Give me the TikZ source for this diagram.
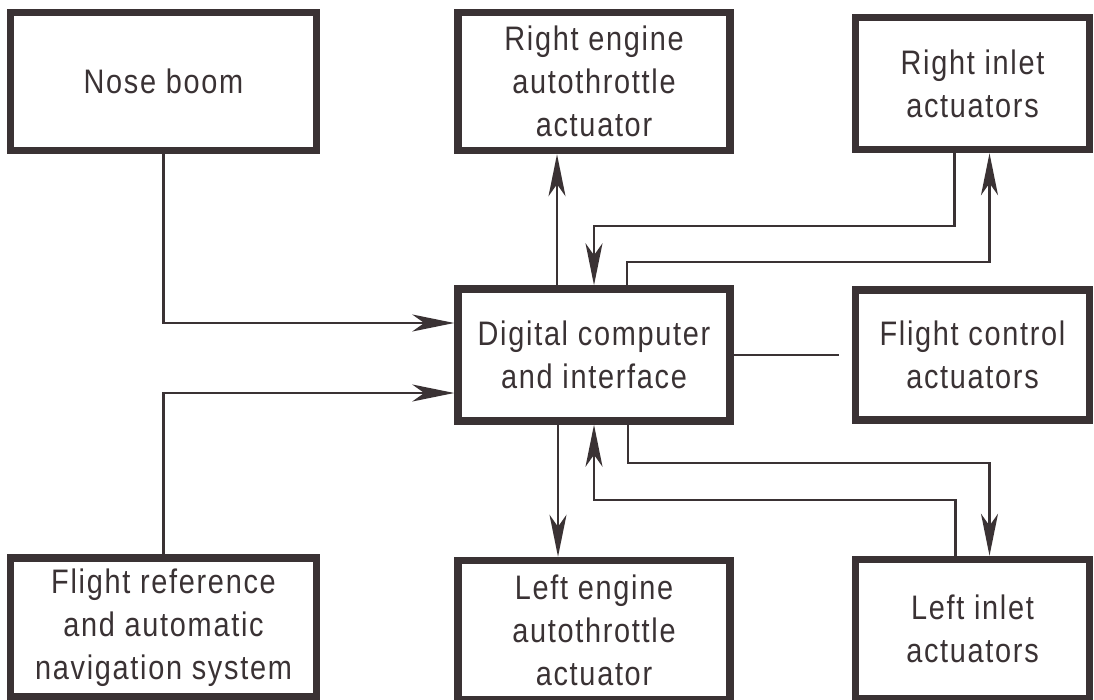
\documentclass[tikz,border=0pt]{standalone}
\usepackage{fontspec}
\setmainfont{Liberation Sans}[LetterSpace=5, FakeStretch=0.85]
\usepackage{xcolor}
\usetikzlibrary{positioning, arrows.meta}

\definecolor{ink}{RGB}{58,50,52}

\begin{document}
\begin{tikzpicture}[x=1pt, y=1pt, >={Stealth[length=42pt, width=17pt, inset=12pt]},
    box/.style={draw=ink, line width=7.5pt, align=center, inner sep=0pt,
        font=\fontsize{34}{43}\selectfont, text=ink},
    wideA/.style={minimum width=306pt},
    wideB/.style={minimum width=272pt},
    wideC/.style={minimum width=234pt},
    link/.style={draw=ink, line width=2.4pt}]
    \useasboundingbox (0,0) rectangle (1094,-700);

    % top row
    \node[box, wideA, minimum height=138pt] (nose) at (163.5,-81.5) {Nose boom};
    \node[box, wideB, minimum height=138pt] (reng) [right=134pt of nose] {Right engine\\autothrottle\\actuator};
    \node[box, wideC, minimum height=132pt] (rinlet) [right=118pt of reng, yshift=-2pt] {Right inlet\\actuators};

    % middle row
    \node[box, wideB, minimum height=132pt] (comp) [below=131pt of reng] {Digital computer\\and interface};
    \node[box, wideC, minimum height=130pt] (fctl) [right=118pt of comp] {Flight control\\actuators};

    % bottom row
    \node[box, wideA, minimum height=139pt] (fref) [below=400pt of nose.south, anchor=north] {Flight reference\\and automatic\\navigation system};
    \node[box, wideB, minimum height=139pt] (leng) [below=132pt of comp] {Left engine\\autothrottle\\actuator};
    \node[box, wideC, minimum height=139pt] (linlet) [below=132pt of fctl.south, anchor=north] {Left inlet\\actuators};

    % inputs
    \path[link, ->] (nose) |- ([yshift=32pt]comp.west);
    \path[link, ->] (fref) |- ([yshift=-38pt]comp.west);

    % engines
    \path[link, ->] ([xshift=-37pt]comp.north) -- ([xshift=-37pt]reng.south);
    \path[link, ->] ([xshift=-36pt]comp.south) -- ([xshift=-36pt]leng.north);

    % inlets
    \path[link, ->] ([xshift=-18pt]rinlet.south) -- ++(0,-73) -| (comp.north);
    \path[link, ->] ([xshift=33pt]comp.north) -- ++(0,23) -| ([xshift=17pt]rinlet.south);
    \path[link, ->] ([xshift=-17pt]linlet.north) -- ++(0,56) -| (comp.south);
    \path[link, ->] ([xshift=34pt]comp.south) -- ++(0,-38) -| ([xshift=17pt]linlet.north);

    % flight control
    \path[link, shorten >=13pt] (comp) -- (comp -| fctl.west);
\end{tikzpicture}
\end{document}
